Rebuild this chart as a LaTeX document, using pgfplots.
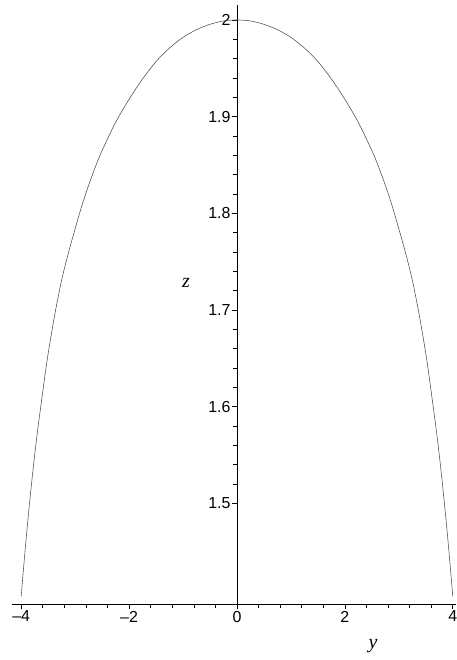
\documentclass[border=0pt]{standalone}
\usepackage{fontspec}
\setmainfont{Liberation Sans}
\newfontfamily\lserif{Liberation Serif}
\usepackage{pgfplots}
\pgfplotsset{compat=1.18}
\begin{document}
\begin{tikzpicture}
\begin{axis}[
  scale only axis, width=444bp, height=599bp,
  xmin=-4.17, xmax=4.06, ymin=1.396, ymax=2.0155,
  axis x line*=bottom, axis y line*=center,
  hide obscured x ticks=false, hide obscured y ticks=false,
  xtick={-4,-2,0,2,4}, xticklabels={–4,–2,0,2,4},
  ytick={1.5,1.6,1.7,1.8,1.9,2},
  yticklabels={1.5,1.6,1.7,1.8,1.9,2},
  minor x tick num=4, minor y tick num=4,
  tick align=center,
  major tick length=5bp, minor tick length=3.5bp,
  tick style={black, line width=0.6bp},
  major x tick style={yshift=-2.5bp},
  minor x tick style={yshift=-1.75bp},
  major y tick style={xshift=-2.5bp},
  minor y tick style={xshift=-1.75bp},
  axis line style={black, line width=0.6bp},
  ticklabel style={font=\fontsize{16}{18}\selectfont},
  xticklabel style={yshift=-1bp},
  yticklabel style={xshift=-0.5bp},
  clip=false,
]
\addplot[gray!60!black, line width=0.55bp, smooth] coordinates {
(-4.0,1.404) (-3.9375,1.445) (-3.875,1.483) (-3.8125,1.518) (-3.75,1.550) (-3.6875,1.579) (-3.625,1.605) (-3.5625,1.631) (-3.5,1.655)
(-3.375,1.696) (-3.25,1.731) (-3.125,1.759) (-3.0,1.784) (-2.875,1.808) (-2.75,1.829) (-2.625,1.848) (-2.5,1.865) (-2.25,1.894)
(-2.0,1.918) (-1.75,1.939) (-1.5,1.957) (-1.25,1.971) (-1.0,1.982)
(-0.75,1.990) (-0.5,1.9955) (-0.25,1.999) (0,2.000)
(0.25,1.999) (0.5,1.9955) (0.75,1.990) (1.0,1.982) (1.25,1.971)
(1.5,1.957) (1.75,1.939) (2.0,1.918) (2.25,1.894) (2.5,1.865) (2.625,1.848)
(2.75,1.829) (2.875,1.808) (3.0,1.784) (3.125,1.759) (3.25,1.731) (3.375,1.696) (3.5,1.655) (3.5625,1.631) (3.625,1.605) (3.6875,1.579)
(3.75,1.550) (3.8125,1.518) (3.875,1.483) (3.9375,1.445) (4.0,1.404)
};
\node[font=\lserif\itshape\fontsize{20}{22}\selectfont] at (axis cs:-0.944,1.728) {z};
\node[font=\lserif\itshape\fontsize{20}{22}\selectfont] at (axis cs:2.52,1.396) [yshift=-42bp] {y};
\end{axis}
\pgfresetboundingbox
\path ([shift={(-12bp,-56bp)}]current axis.south west) rectangle ([shift={(0bp,5bp)}]current axis.north east);
\end{tikzpicture}
\end{document}
